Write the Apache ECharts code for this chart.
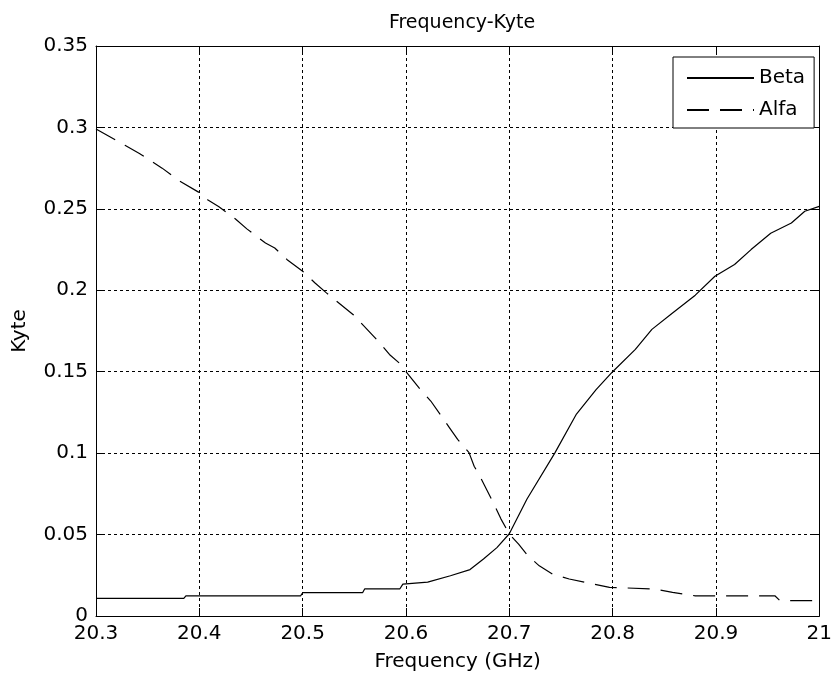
<!DOCTYPE html>
<html>
<head>
<meta charset="utf-8">
<script src="https://cdn.jsdelivr.net/npm/echarts@6/dist/echarts.min.js"></script>
<style>
  html, body { margin: 0; padding: 0; background: #fff; }
  #chart { width: 835px; height: 677px; }
</style>
</head>
<body>
<div id="chart"></div>
<script>
// Frequency sweep (GHz) and Kyte values for each curve
const freqBeta = [20.30, 20.385, 20.387, 20.498, 20.50, 20.558, 20.56, 20.594, 20.597, 20.621,
  20.643, 20.662, 20.675, 20.688, 20.70, 20.717, 20.744, 20.765, 20.784, 20.80,
  20.822, 20.838, 20.858, 20.88, 20.899, 20.918, 20.934, 20.953, 20.973, 20.986, 21.0];
const beta = [0.0108, 0.0108, 0.0124, 0.0124, 0.0143, 0.0143, 0.0166, 0.0166, 0.0196, 0.0208,
  0.0247, 0.0285, 0.035, 0.042, 0.0505, 0.0717, 0.1, 0.124, 0.139, 0.150,
  0.1637, 0.176, 0.186, 0.197, 0.2086, 0.2158, 0.225, 0.235, 0.2413, 0.2485, 0.2515];

const freqAlfa = [20.30, 20.328, 20.342, 20.364, 20.381, 20.40, 20.408, 20.419, 20.435, 20.446,
  20.464, 20.473, 20.485, 20.50, 20.512, 20.523, 20.549, 20.573, 20.584, 20.595,
  20.60, 20.614, 20.624, 20.642, 20.65, 20.661, 20.666, 20.673, 20.686, 20.692,
  20.70, 20.709, 20.718, 20.729, 20.742, 20.758, 20.774, 20.797, 20.84, 20.858,
  20.88, 20.957, 20.962, 21.0];
const alfa = [0.299, 0.289, 0.284, 0.275, 0.267, 0.26, 0.2556, 0.2513, 0.2438, 0.2377,
  0.229, 0.226, 0.2188, 0.2117, 0.2045, 0.1984, 0.185, 0.1688, 0.1606, 0.1545,
  0.150, 0.139, 0.132, 0.1157, 0.1085, 0.1003, 0.092, 0.084, 0.0676, 0.0595,
  0.0503, 0.0441, 0.037, 0.0308, 0.0257, 0.0227, 0.0206, 0.0176, 0.0166, 0.0145,
  0.0124, 0.0124, 0.0094, 0.0094];

// Axis tick labels
const xTicks = ['20.3', '20.4', '20.5', '20.6', '20.7', '20.8', '20.9', '21'];
const yTicks = ['0', '0.05', '0.1', '0.15', '0.2', '0.25', '0.3', '0.35'];

const FONT = '"DejaVu Sans", sans-serif';
const FS = 20;
const xMin = Number(xTicks[0]), xMax = Number(xTicks[xTicks.length - 1]);
const yMin = Number(yTicks[0]), yMax = Number(yTicks[yTicks.length - 1]);

const fmt = (list) => (v) => {
  const hit = list.find(t => Math.abs(Number(t) - v) < 1e-6);
  return hit !== undefined ? hit : '';
};

const pairs = (xs, ys) => xs.map((x, i) => [x, ys[i]]);

const frameAxis = {
  axisLine: { show: true, onZero: false, lineStyle: { color: '#000', width: 1 } },
  axisTick: { show: true, inside: true, length: 8, lineStyle: { color: '#000', width: 1 } }
};

const chart = echarts.init(document.getElementById('chart'), null, { renderer: 'canvas' });
chart.setOption({
  animation: false,
  backgroundColor: '#fff',
  title: {
    text: 'Frequency-Kyte',
    left: 457, top: 9, textAlign: 'center',
    textStyle: { fontFamily: FONT, fontSize: 19, fontWeight: 'normal', color: '#000' }
  },
  grid: { left: 96, right: 10, top: 46, bottom: 60, containLabel: false },
  legend: {
    orient: 'vertical',
    left: 673, top: 57,
    itemWidth: 67, itemHeight: 20, itemGap: 12,
    padding: [11, 9, 8, 13],
    borderColor: '#000', borderWidth: 1, backgroundColor: '#fff',
    itemStyle: { opacity: 0 },
    textStyle: { fontFamily: FONT, fontSize: FS, color: '#000' },
    data: ['Beta', 'Alfa']
  },
  xAxis: [
    Object.assign({
      type: 'value', min: xMin, max: xMax, interval: 0.1,
      name: 'Frequency (GHz)', nameLocation: 'middle', nameGap: 36,
      nameTextStyle: { fontFamily: FONT, fontSize: FS, color: '#000' },
      axisLabel: { formatter: fmt(xTicks), margin: 8, fontFamily: FONT, fontSize: FS, color: '#000' },
      splitLine: { show: true, lineStyle: { color: '#000', width: 1, type: [3, 3] } }
    }, frameAxis),
    Object.assign({
      type: 'value', position: 'top', min: xMin, max: xMax, interval: 0.1,
      axisLabel: { show: false }, splitLine: { show: false }
    }, frameAxis)
  ],
  yAxis: [
    Object.assign({
      type: 'value', min: yMin, max: yMax, interval: 0.05,
      name: 'Kyte', nameLocation: 'middle', nameGap: 66,
      nameTextStyle: { fontFamily: FONT, fontSize: FS, color: '#000' },
      axisLabel: { formatter: fmt(yTicks), margin: 8, fontFamily: FONT, fontSize: FS, color: '#000' },
      splitLine: { show: true, lineStyle: { color: '#000', width: 1, type: [3, 3] } }
    }, frameAxis),
    Object.assign({
      type: 'value', position: 'right', min: yMin, max: yMax, interval: 0.05,
      axisLabel: { show: false }, splitLine: { show: false }
    }, frameAxis)
  ],
  series: [
    {
      name: 'Beta', type: 'line', xAxisIndex: 0, yAxisIndex: 0,
      data: pairs(freqBeta, beta),
      symbol: 'none', showSymbol: false,
      lineStyle: { color: '#000', width: 1.2, type: 'solid' },
      itemStyle: { color: '#000' }
    },
    {
      name: 'Alfa', type: 'line', xAxisIndex: 0, yAxisIndex: 0,
      data: pairs(freqAlfa, alfa),
      symbol: 'none', showSymbol: false,
      lineStyle: { color: '#000', width: 1.2, type: [22, 11] },
      itemStyle: { color: '#000' }
    }
  ]
});
</script>
</body>
</html>
